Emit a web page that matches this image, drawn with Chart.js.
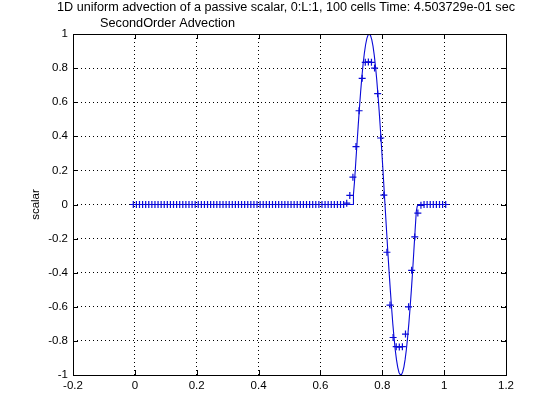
<!DOCTYPE html>
<html>
<head>
<meta charset="utf-8">
<script src="https://cdn.jsdelivr.net/npm/chart.js@4/dist/chart.umd.min.js"></script>
<style>
  html, body { margin: 0; padding: 0; background: #ffffff; }
  #wrap { width: 560px; height: 420px; position: relative; }
</style>
</head>
<body>
<div id="wrap"><canvas id="c" width="560" height="420"></canvas></div>
<script>
// ---- data ----
const titleLine1 = "1D uniform advection of a passive scalar, 0:L:1, 100 cells Time: 4.503729e-01 sec";
const titleLine2 = "SecondOrder Advection";
const yLabel = "scalar";

const xTicks = [-0.2, 0, 0.2, 0.4, 0.6, 0.8, 1, 1.2];
const yTicks = [-1, -0.8, -0.6, -0.4, -0.2, 0, 0.2, 0.4, 0.6, 0.8, 1];

// cell centres (100 cells + 2 ghost cells)
const cellX = [
  -0.005, 0.005, 0.015, 0.025, 0.035, 0.045, 0.055, 0.065, 0.075, 0.085,
  0.095, 0.105, 0.115, 0.125, 0.135, 0.145, 0.155, 0.165, 0.175, 0.185,
  0.195, 0.205, 0.215, 0.225, 0.235, 0.245, 0.255, 0.265, 0.275, 0.285,
  0.295, 0.305, 0.315, 0.325, 0.335, 0.345, 0.355, 0.365, 0.375, 0.385,
  0.395, 0.405, 0.415, 0.425, 0.435, 0.445, 0.455, 0.465, 0.475, 0.485,
  0.495, 0.505, 0.515, 0.525, 0.535, 0.545, 0.555, 0.565, 0.575, 0.585,
  0.595, 0.605, 0.615, 0.625, 0.635, 0.645, 0.655, 0.665, 0.675, 0.685,
  0.695, 0.705, 0.715, 0.725, 0.735, 0.745, 0.755, 0.765, 0.775, 0.785,
  0.795, 0.805, 0.815, 0.825, 0.835, 0.845, 0.855, 0.865, 0.875, 0.885,
  0.895, 0.905, 0.915, 0.925, 0.935, 0.945, 0.955, 0.965, 0.975, 0.985,
  0.995, 1.005
];
// numerical (SecondOrder) solution, '+' markers
const scalarNum = [
  0, 0, 0, 0, 0, 0, 0, 0, 0, 0,
  0, 0, 0, 0, 0, 0, 0, 0, 0, 0,
  0, 0, 0, 0, 0, 0, 0, 0, 0, 0,
  0, 0, 0, 0, 0, 0, 0, 0, 0, 0,
  0, 0, 0, 0, 0, 0, 0, 0, 0, 0,
  0, 0, 0, 0, 0, 0, 0, 0, 0, 0,
  0, 0, 0, 0, 0, 0, 0, 0, 0, 0.008,
  0.053, 0.16, 0.34, 0.55, 0.74, 0.834, 0.836, 0.834, 0.80, 0.65,
  0.39, 0.055, -0.28, -0.59, -0.78, -0.834, -0.836, -0.834, -0.76, -0.60,
  -0.386, -0.19, -0.05, -0.005, 0, 0, 0, 0, 0, 0,
  0, 0
];
// exact solution, solid line
const exactX = [
  -0.005, 0.7065, 0.7068, 0.710, 0.714, 0.718, 0.722, 0.726, 0.730, 0.734,
  0.738, 0.742, 0.746, 0.750, 0.754, 0.758, 0.762, 0.766, 0.770, 0.774,
  0.778, 0.782, 0.786, 0.790, 0.794, 0.798, 0.802, 0.806, 0.810, 0.814,
  0.818, 0.822, 0.826, 0.830, 0.834, 0.838, 0.842, 0.846, 0.850, 0.854,
  0.858, 0.862, 0.866, 0.870, 0.874, 0.878, 0.882, 0.886, 0.890, 0.894,
  0.898, 0.902, 0.906, 0.910, 0.913, 0.917, 1.005
];
const exactY = [
  0, 0, 0.06, 0.13, 0.24, 0.35, 0.458, 0.564, 0.661, 0.748,
  0.824, 0.887, 0.937, 0.973, 0.994, 1.0, 0.991, 0.967, 0.929, 0.876,
  0.810, 0.733, 0.643, 0.545, 0.438, 0.324, 0.206, 0.084, -0.038, -0.160,
  -0.280, -0.394, -0.502, -0.604, -0.699, -0.781, -0.855, -0.911, -0.955, -0.985,
  -0.998, -0.998, -0.982, -0.952, -0.907, -0.849, -0.778, -0.696, -0.603, -0.502,
  -0.393, -0.274, -0.155, -0.04, -0.01, 0, 0
];

// ---- chart ----
const FONT = "'Liberation Sans', Arial, Helvetica, sans-serif";
const BLUE = '#0a0ad8';

function fitText(ctx, text, x, y, targetWidth) {
  const w = ctx.measureText(text).width;
  ctx.save();
  ctx.translate(x, y);
  ctx.scale(targetWidth / w, 1);
  ctx.textAlign = 'left';
  ctx.fillText(text, 0, 0);
  ctx.restore();
}

const frame = {
  id: 'frame',
  afterDraw(chart) {
    const ctx = chart.ctx;
    const a = chart.chartArea;
    const xs = chart.scales.x, ys = chart.scales.y;
    ctx.save();
    ctx.strokeStyle = '#000';
    ctx.lineWidth = 1;
    // box
    ctx.strokeRect(Math.round(a.left) + 0.5, Math.round(a.top) + 0.5,
                   Math.round(a.right - a.left), Math.round(a.bottom - a.top));
    // inward ticks
    const L = 5;
    ctx.beginPath();
    xTicks.forEach(v => {
      const px = Math.round(xs.getPixelForValue(v)) + 0.5;
      ctx.moveTo(px, a.bottom); ctx.lineTo(px, a.bottom - L);
      ctx.moveTo(px, a.top); ctx.lineTo(px, a.top + L);
    });
    yTicks.forEach(v => {
      const py = Math.round(ys.getPixelForValue(v)) + 0.5;
      ctx.moveTo(a.left, py); ctx.lineTo(a.left + L, py);
      ctx.moveTo(a.right, py); ctx.lineTo(a.right - L, py);
    });
    ctx.stroke();
    // titles
    ctx.fillStyle = '#000';
    ctx.font = '12px ' + FONT;
    ctx.textBaseline = 'alphabetic';
    fitText(ctx, titleLine1, 57, 10.5, 458);
    fitText(ctx, titleLine2, 100, 26.5, 135);
    // y label
    ctx.font = '11.5px ' + FONT;
    ctx.save();
    ctx.translate(36, (a.top + a.bottom) / 2);
    ctx.rotate(-Math.PI / 2);
    ctx.textAlign = 'center';
    ctx.textBaseline = 'middle';
    ctx.fillText(yLabel, 0, 0);
    ctx.restore();
    ctx.restore();
  }
};

new Chart(document.getElementById('c'), {
  type: 'scatter',
  data: {
    datasets: [
      {
        label: 'numerical',
        data: cellX.map((x, i) => ({ x: x, y: scalarNum[i] })),
        showLine: false,
        pointStyle: 'cross',
        pointRadius: 3.5,
        pointBorderWidth: 1.2,
        borderColor: BLUE,
        backgroundColor: BLUE
      },
      {
        label: 'exact',
        data: exactX.map((x, i) => ({ x: x, y: exactY[i] })),
        showLine: true,
        pointRadius: 0,
        borderWidth: 1.1,
        borderColor: BLUE,
        tension: 0
      }
    ]
  },
  options: {
    responsive: false,
    animation: false,
    devicePixelRatio: 1,
    layout: { padding: { top: 34, right: 54, bottom: 0, left: 0 } },
    plugins: {
      legend: { display: false },
      tooltip: { enabled: false },
      title: { display: false }
    },
    scales: {
      x: {
        type: 'linear',
        min: -0.2, max: 1.2,
        afterBuildTicks: s => { s.ticks = xTicks.map(v => ({ value: v })); },
        afterFit: s => { s.height = 45; },
        ticks: {
          color: '#000',
          font: { family: FONT, size: 11.5 },
          padding: 4,
          maxRotation: 0,
          autoSkip: false,
          callback: v => String(v)
        },
        grid: { color: '#000', lineWidth: 1, drawTicks: false },
        border: { display: false, dash: [1, 3] }
      },
      y: {
        type: 'linear',
        min: -1, max: 1,
        afterBuildTicks: s => { s.ticks = yTicks.map(v => ({ value: v })); },
        afterFit: s => { s.width = 73; },
        ticks: {
          color: '#000',
          font: { family: FONT, size: 11.5 },
          padding: 5,
          autoSkip: false,
          callback: v => String(v)
        },
        grid: { color: '#000', lineWidth: 1, drawTicks: false },
        border: { display: false, dash: [1, 3] }
      }
    }
  },
  plugins: [frame]
});
</script>
</body>
</html>
